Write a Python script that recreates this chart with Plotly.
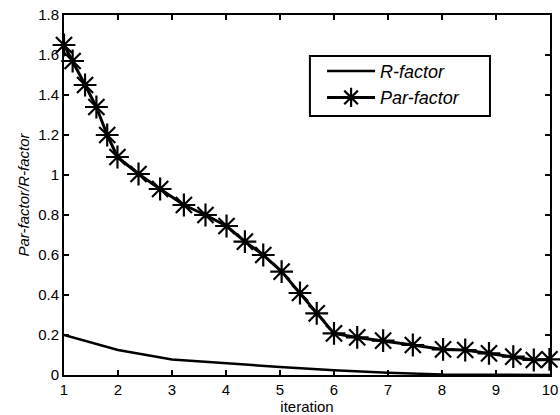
import plotly.graph_objects as go

# Par-factor (starred series)
par_x = [1.0, 1.16, 1.39, 1.6, 1.8, 1.99, 2.38, 2.78, 3.22, 3.62, 4.01, 4.35, 4.69,
         5.03, 5.37, 5.68, 6.0, 6.43, 6.91, 7.46, 8.02, 8.43, 8.87, 9.32, 9.70, 9.99]
par_y = [1.65, 1.57, 1.45, 1.34, 1.2, 1.09, 1.005, 0.93, 0.85, 0.80, 0.745, 0.667, 0.60,
         0.517, 0.41, 0.308, 0.208, 0.188, 0.172, 0.15, 0.128, 0.125, 0.108, 0.092, 0.075, 0.078]

# R-factor (plain line)
r_x = [1, 2, 3, 4, 5, 6, 7, 8, 9, 10]
r_y = [0.2, 0.125, 0.077, 0.057, 0.04, 0.024, 0.011, 0.003, 0.001, 0.0]

x_ticks = [1, 2, 3, 4, 5, 6, 7, 8, 9, 10]
y_ticks = [0, 0.2, 0.4, 0.6, 0.8, 1.0, 1.2, 1.4, 1.6, 1.8]
y_tick_text = ["0", "0.2", "0.4", "0.6", "0.8", "1", "1.2", "1.4", "1.6", "1.8"]

FONT = "Liberation Sans, Arial, Helvetica, sans-serif"

fig = go.Figure()
fig.add_trace(go.Scatter(
    x=r_x, y=r_y, mode="lines", name="<i>R-factor</i>",
    line=dict(color="black", width=2.5), cliponaxis=False,
))
fig.add_trace(go.Scatter(
    x=par_x, y=par_y, mode="lines+markers", name="<i>Par-factor</i>",
    line=dict(color="black", width=3),
    marker=dict(symbol="asterisk-open", size=19, color="black",
                line=dict(color="black", width=2.2)),
    cliponaxis=False,
))

axis_common = dict(
    showline=True, linecolor="black", linewidth=2, mirror="ticks",
    ticks="inside", ticklen=5, tickwidth=1.5, tickcolor="black",
    showgrid=False, zeroline=False, automargin=False,
    tickfont=dict(family=FONT, size=15, color="black"),
)

fig.update_layout(
    width=560, height=415,
    margin=dict(l=64, r=10, t=15, b=40),
    paper_bgcolor="white", plot_bgcolor="white",
    font=dict(family=FONT, color="black"),
    xaxis=dict(range=[1, 10], tickvals=x_ticks, ticktext=[str(v) for v in x_ticks],
               title=dict(text="iteration", font=dict(size=15), standoff=0),
               ticklabelstandoff=0,
               **axis_common),
    yaxis=dict(range=[0, 1.8], tickvals=y_ticks, ticktext=y_tick_text,
               title=dict(text="<i>Par-factor/R-factor</i>", font=dict(size=15), standoff=5),
               **axis_common),
    legend=dict(
        x=0.531, y=0.895, xanchor="left", yanchor="top",
        bgcolor="rgba(0,0,0,0)", borderwidth=0,
        font=dict(family=FONT, size=18, color="black"),
        itemwidth=48, tracegroupgap=0,
    ),
    showlegend=True,
    shapes=[dict(
        type="rect", xref="paper", yref="paper",
        x0=0.506, x1=0.8765, y0=0.7194, y1=0.886,
        line=dict(color="black", width=2), fillcolor="white", layer="above",
    )],
)

fig.write_html("out.html")
